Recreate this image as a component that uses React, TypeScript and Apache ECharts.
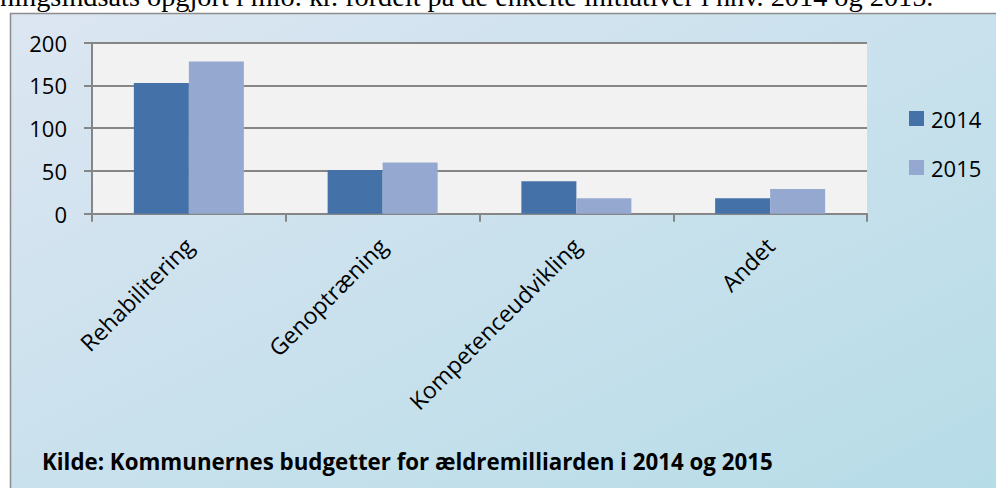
import React, { useEffect, useRef } from "react";
import * as echarts from "echarts";

const categories = ["Rehabilitering", "Genoptræning", "Kompetenceudvikling", "Andet"];
const values2014 = [153, 51, 38, 18];
const values2015 = [178, 60, 18, 29];
const seriesNames = ["2014", "2015"];
const headerText = "ningsindsats opgjort i mio. kr. fordelt på de enkelte initiativer i hhv. 2014 og 2015.";
const sourceText = "Kilde: Kommunernes budgetter for ældremilliarden i 2014 og 2015";

const FONT = "'Open Sans', 'Noto Sans', sans-serif";

export default function App() {
  const ref = useRef<HTMLDivElement>(null);
  useEffect(() => {
    if (!ref.current) return;
    const chart = echarts.init(ref.current, undefined, { renderer: "svg" });
    chart.setOption({
      animation: false,
      backgroundColor: "#ffffff",
      graphic: [
        {
          type: "rect",
          z: -10,
          silent: true,
          shape: { x: 10.5, y: 13.5, width: 1000, height: 500 },
          style: {
            fill: new echarts.graphic.LinearGradient(0, 0, 1, 1, [
              { offset: 0, color: "#dce6f2" },
              { offset: 1, color: "#b5dce7" },
            ]),
            stroke: "#8c8c8c",
            lineWidth: 1.5,
          },
        },
        {
          type: "text",
          x: 0,
          y: -4,
          style: {
            text: headerText,
            font: "28.3px 'Liberation Serif', serif",
            fill: "#000",
            verticalAlign: "middle",
          },
        },
        {
          type: "text",
          x: 42,
          y: 461,
          style: {
            text: sourceText,
            font: "bold 22.3px " + FONT,
            fill: "#000",
            verticalAlign: "middle",
          },
        },
      ],
      grid: {
        left: 92,
        right: 129,
        top: 42.7,
        bottom: 274.3,
        show: true,
        backgroundColor: "#f2f2f2",
        borderWidth: 0,
      },
      legend: {
        orient: "vertical",
        left: 909,
        top: 107.5,
        padding: 0,
        itemWidth: 15,
        itemHeight: 15,
        itemGap: 27,
        icon: "rect",
        textStyle: {
          fontFamily: FONT,
          fontSize: 22,
          lineHeight: 22,
          color: "#000",
          padding: [0, 0, 0, 2],
        },
        data: seriesNames,
      },
      xAxis: {
        type: "category",
        data: categories,
        axisLine: { lineStyle: { color: "#868686", width: 2 } },
        axisTick: { show: true, length: 8, lineStyle: { color: "#868686", width: 2 } },
        axisLabel: {
          rotate: 45,
          fontFamily: FONT,
          fontSize: 23,
          color: "#000",
          margin: 28,
        },
      },
      yAxis: {
        type: "value",
        min: 0,
        max: 200,
        interval: 50,
        axisLine: { show: true, lineStyle: { color: "#868686", width: 2 } },
        axisTick: { show: true, length: 8, lineStyle: { color: "#868686", width: 2 } },
        splitLine: { lineStyle: { color: "#868686", width: 2 } },
        axisLabel: { fontFamily: FONT, fontSize: 22, color: "#000", margin: 25 },
      },
      series: [
        {
          name: seriesNames[0],
          type: "bar",
          data: values2014,
          barWidth: 55,
          barGap: "0%",
          itemStyle: { color: "#4472a8" },
        },
        {
          name: seriesNames[1],
          type: "bar",
          data: values2015,
          barWidth: 55,
          itemStyle: { color: "#95a9d0" },
        },
      ],
    });
    return () => chart.dispose();
  }, []);
  return (
    <div
      ref={ref}
      style={{ position: "fixed", left: 0, top: 0, width: 996, height: 488 }}
    />
  );
}
